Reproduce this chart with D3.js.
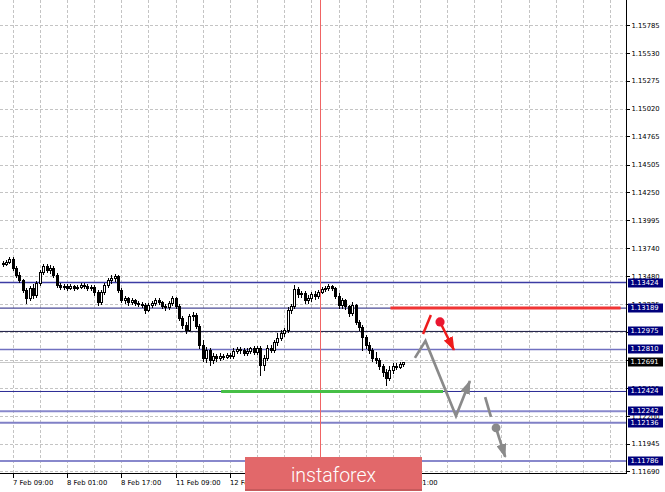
<!DOCTYPE html>
<html><head><meta charset="utf-8">
<script src="https://cdn.jsdelivr.net/npm/d3@7"></script>
<style>
body{margin:0;background:#fff;}
svg{display:block;}
.ax text{font-family:"DejaVu Sans",sans-serif;font-size:6.8px;fill:#000;}
</style>
</head><body>
<svg id="c" width="665" height="492"></svg>
<script>
// ---- data: EURUSD H1 candles (index 0 = 7 Feb 06:00) ----
const open  = [1.13603,1.13594,1.13612,1.13640,1.13557,1.13493,1.13447,1.13355,1.13282,1.13374,1.13309,1.13419,1.13520,1.13575,1.13539,1.13557,1.13493,1.13401,1.13383,1.13392,1.13374,1.13392,1.13374,1.13383,1.13401,1.13392,1.13374,1.13383,1.13337,1.13245,1.13337,1.13401,1.13447,1.13465,1.13484,1.13355,1.13264,1.13282,1.13245,1.13264,1.13236,1.13227,1.13218,1.13172,1.13218,1.13236,1.13264,1.13245,1.13209,1.13199,1.13236,1.13282,1.13209,1.13099,1.13034,1.12988,1.13117,1.13126,1.13025,1.12851,1.12732,1.12805,1.12713,1.12750,1.12732,1.12750,1.12741,1.12759,1.12750,1.12796,1.12814,1.12805,1.12777,1.12796,1.12823,1.12787,1.12823,1.12667,1.12732,1.12823,1.12805,1.12878,1.12915,1.12961,1.12988,1.13172,1.13209,1.13364,1.13319,1.13328,1.13264,1.13282,1.13319,1.13300,1.13337,1.13364,1.13374,1.13392,1.13374,1.13300,1.13218,1.13264,1.13209,1.13144,1.13218,1.13062,1.13016,1.12924,1.12851,1.12805,1.12732,1.12713,1.12658,1.12603,1.12548,1.12622,1.12658,1.12649,1.12677];
const high  = [1.13621,1.13630,1.13658,1.13658,1.13575,1.13520,1.13456,1.13374,1.13392,1.13410,1.13438,1.13539,1.13594,1.13594,1.13585,1.13575,1.13511,1.13419,1.13410,1.13410,1.13410,1.13401,1.13401,1.13419,1.13419,1.13410,1.13401,1.13401,1.13355,1.13355,1.13419,1.13465,1.13493,1.13502,1.13493,1.13374,1.13300,1.13291,1.13282,1.13273,1.13254,1.13245,1.13236,1.13236,1.13254,1.13282,1.13282,1.13254,1.13227,1.13254,1.13300,1.13291,1.13227,1.13117,1.13062,1.13135,1.13154,1.13144,1.13043,1.12897,1.12833,1.12823,1.12777,1.12768,1.12777,1.12768,1.12777,1.12777,1.12823,1.12833,1.12833,1.12823,1.12823,1.12833,1.12842,1.12842,1.12842,1.12759,1.12851,1.12851,1.12897,1.12961,1.12988,1.13007,1.13199,1.13227,1.13401,1.13383,1.13346,1.13346,1.13309,1.13337,1.13346,1.13355,1.13383,1.13392,1.13410,1.13401,1.13383,1.13328,1.13282,1.13273,1.13218,1.13245,1.13227,1.13080,1.13034,1.12943,1.12878,1.12823,1.12787,1.12732,1.12677,1.12631,1.12658,1.12686,1.12686,1.12695,1.12695];
const low   = [1.13575,1.13585,1.13603,1.13539,1.13475,1.13429,1.13337,1.13236,1.13264,1.13282,1.13291,1.13401,1.13502,1.13520,1.13511,1.13475,1.13383,1.13364,1.13364,1.13355,1.13364,1.13355,1.13364,1.13374,1.13374,1.13355,1.13355,1.13309,1.13218,1.13227,1.13319,1.13383,1.13419,1.13438,1.13337,1.13245,1.13236,1.13218,1.13227,1.13218,1.13209,1.13199,1.13144,1.13163,1.13199,1.13218,1.13227,1.13190,1.13172,1.13181,1.13218,1.13190,1.13080,1.13007,1.12961,1.12979,1.13080,1.13007,1.12823,1.12704,1.12695,1.12667,1.12686,1.12704,1.12713,1.12722,1.12732,1.12732,1.12732,1.12777,1.12777,1.12759,1.12759,1.12777,1.12768,1.12768,1.12576,1.12622,1.12713,1.12787,1.12787,1.12851,1.12897,1.12933,1.12970,1.13144,1.13190,1.13291,1.13291,1.13236,1.13236,1.13254,1.13273,1.13282,1.13328,1.13346,1.13355,1.13355,1.13282,1.13190,1.13190,1.13181,1.13117,1.13126,1.13043,1.12988,1.12805,1.12823,1.12777,1.12704,1.12686,1.12631,1.12567,1.12484,1.12530,1.12594,1.12631,1.12640,1.12658];
const close = [1.13594,1.13612,1.13640,1.13557,1.13493,1.13447,1.13355,1.13282,1.13374,1.13309,1.13419,1.13520,1.13575,1.13539,1.13557,1.13493,1.13401,1.13383,1.13392,1.13374,1.13392,1.13374,1.13383,1.13401,1.13392,1.13374,1.13383,1.13337,1.13245,1.13337,1.13401,1.13447,1.13465,1.13484,1.13355,1.13264,1.13282,1.13245,1.13264,1.13236,1.13227,1.13218,1.13172,1.13218,1.13236,1.13264,1.13245,1.13209,1.13199,1.13236,1.13282,1.13209,1.13099,1.13034,1.12988,1.13117,1.13126,1.13025,1.12851,1.12732,1.12805,1.12713,1.12750,1.12732,1.12750,1.12741,1.12759,1.12750,1.12796,1.12814,1.12805,1.12777,1.12796,1.12823,1.12787,1.12823,1.12667,1.12732,1.12823,1.12805,1.12878,1.12915,1.12961,1.12988,1.13172,1.13209,1.13364,1.13319,1.13328,1.13264,1.13282,1.13319,1.13300,1.13337,1.13364,1.13374,1.13392,1.13374,1.13300,1.13218,1.13264,1.13209,1.13144,1.13218,1.13062,1.13016,1.12924,1.12851,1.12805,1.12732,1.12713,1.12658,1.12603,1.12548,1.12622,1.12658,1.12649,1.12677,1.12691];

const timeTickIdx    = [3,19,35,51,67,83,99,115];
const timeTickLabels = ["7 Feb 09:00","8 Feb 01:00","8 Feb 17:00","11 Feb 09:00","12 Feb 01:00","12 Feb 17:00","13 Feb 09:00","14 Feb 01:00"];
const priceTicks = [1.15785,1.15530,1.15275,1.15020,1.14765,1.14505,1.14250,1.13995,1.13740,1.13480,1.13225,1.12970,1.12715,1.12455,1.12200,1.11945,1.11690];
const levels = [1.13424,1.13189,1.12975,1.12810,1.12424,1.12242,1.12136,1.11786];
const bidPrice = 1.12691;
const redZone   = {from:114.3, to:182.1, price:1.13189};
const greenZone = {from:64.4,  to:129.8, price:1.12424};
const vLineIdx = 93.5;
// forecast sketch (bar index, price)
const fcGreyPath   = [[121.5,1.12732],[124.6,1.12888],[133.6,1.12199],[137.7,1.12520]];
const fcRedStroke  = [[123.9,1.12951],[126.2,1.13126]];
const fcRedArrow   = [[128.9,1.13062],[133.0,1.12805]];
const fcGreyStroke = [[142.2,1.12373],[143.9,1.12190]];
const fcGreyArrow  = [[145.4,1.12089],[148.1,1.11823]];

// ---- styles ----
const levelStyles = [
  {c:"#3c3ca4",w:1.5},{c:"#1e1e7c",w:1},{c:"#161640",w:1},{c:"#7070c0",w:1.5},
  {c:"#2a2a94",w:1},{c:"#8888cc",w:2},{c:"#8080c6",w:2},{c:"#8888cc",w:2}];
const logoBox = {x:245, y:457, w:177, h:34};

const W=626, H=473;
const svg = d3.select("#c");
const x = d3.scaleLinear().domain([-0.743,183.69]).range([0,W]);
const y = d3.scaleLinear().domain([1.116758,1.160165]).range([H,0]);

const plot = svg.append("g");
// grid
const gridIdx = d3.range(3,184,8);
plot.selectAll("line.vg").data(gridIdx).enter().append("line")
  .attr("x1",d=>Math.round(x(d))+0.5).attr("x2",d=>Math.round(x(d))+0.5)
  .attr("y1",0).attr("y2",H)
  .attr("stroke","#c4c4c4").attr("stroke-dasharray","3,2").attr("shape-rendering","crispEdges");
plot.selectAll("line.hg").data(priceTicks).enter().append("line")
  .attr("x1",0).attr("x2",W)
  .attr("y1",d=>Math.round(y(d))+0.5).attr("y2",d=>Math.round(y(d))+0.5)
  .attr("stroke","#c4c4c4").attr("stroke-dasharray","3,2").attr("shape-rendering","crispEdges");

// bid line
plot.append("line").attr("x1",0).attr("x2",W)
  .attr("y1",Math.round(y(bidPrice))+0.5).attr("y2",Math.round(y(bidPrice))+0.5)
  .attr("stroke","#c8c8c8").attr("stroke-width",1).attr("shape-rendering","crispEdges");

// level lines
levels.forEach((p,i)=>{
  const st=levelStyles[i];
  plot.append("line").attr("x1",0).attr("x2",W)
    .attr("y1",y(p)).attr("y2",y(p))
    .attr("stroke",st.c).attr("stroke-width",st.w);
});

// vertical red line
plot.append("line").attr("x1",Math.round(x(vLineIdx))+0.5).attr("x2",Math.round(x(vLineIdx))+0.5)
  .attr("y1",0).attr("y2",H).attr("stroke","#f06464").attr("stroke-width",1)
  .attr("shape-rendering","crispEdges");

// zones
plot.append("line").attr("x1",x(redZone.from)).attr("x2",x(redZone.to))
  .attr("y1",y(redZone.price)).attr("y2",y(redZone.price))
  .attr("stroke","#f03434").attr("stroke-width",3);
plot.append("line").attr("x1",x(greenZone.from)).attr("x2",x(greenZone.to))
  .attr("y1",y(greenZone.price)).attr("y2",y(greenZone.price))
  .attr("stroke","#46bf46").attr("stroke-width",3);

// candles
const cg = plot.append("g");
open.forEach((o,i)=>{
  const cx = Math.round(x(i));
  const c = close[i], h = high[i], l = low[i];
  cg.append("line").attr("x1",cx+0.5).attr("x2",cx+0.5)
    .attr("y1",Math.round(y(h))).attr("y2",Math.round(y(l))+1)
    .attr("stroke","#000").attr("shape-rendering","crispEdges");
  const top = Math.round(y(Math.max(o,c))), bot = Math.round(y(Math.min(o,c)));
  if (c >= o) {
    cg.append("rect").attr("x",cx-0.5).attr("y",top+0.5)
      .attr("width",2).attr("height",Math.max(bot-top,1))
      .attr("fill","#fff").attr("stroke","#000").attr("stroke-width",1)
      .attr("shape-rendering","crispEdges");
  } else {
    cg.append("rect").attr("x",cx-1).attr("y",top)
      .attr("width",3).attr("height",Math.max(bot-top,1)+1)
      .attr("fill","#000").attr("shape-rendering","crispEdges");
  }
});

// forecast marks
const defs = svg.append("defs");
function marker(id,color){
  defs.append("marker").attr("id",id).attr("markerUnits","userSpaceOnUse")
    .attr("viewBox","0 0 14 10").attr("refX",13).attr("refY",5)
    .attr("markerWidth",14).attr("markerHeight",10).attr("orient","auto")
    .append("path").attr("d","M0,0 L14,5 L0,10 Z").attr("fill",color);
}
marker("ag","#8a8a8a"); marker("ar","#ee1c1c");
const ln = d3.line().x(d=>x(d[0])).y(d=>y(d[1]));
plot.append("path").attr("d",ln(fcGreyPath)).attr("fill","none")
  .attr("stroke","#8a8a8a").attr("stroke-width",2.7).attr("stroke-linejoin","miter")
  .attr("marker-end","url(#ag)");
plot.append("path").attr("d",ln(fcRedStroke)).attr("fill","none")
  .attr("stroke","#ee1c1c").attr("stroke-width",2.5);
plot.append("path").attr("d",ln(fcRedArrow)).attr("fill","none")
  .attr("stroke","#ee1c1c").attr("stroke-width",2.5).attr("marker-end","url(#ar)");
plot.append("circle").attr("cx",x(fcRedArrow[0][0])).attr("cy",y(fcRedArrow[0][1]))
  .attr("r",4.6).attr("fill","#ea1730");
plot.append("path").attr("d",ln(fcGreyStroke)).attr("fill","none")
  .attr("stroke","#8a8a8a").attr("stroke-width",2.7);
plot.append("path").attr("d",ln(fcGreyArrow)).attr("fill","none")
  .attr("stroke","#8a8a8a").attr("stroke-width",2.7).attr("marker-end","url(#ag)");
plot.append("circle").attr("cx",x(fcGreyArrow[0][0])).attr("cy",y(fcGreyArrow[0][1]))
  .attr("r",4.4).attr("fill","#8a8a8a");

// axes
const boxed = levels.concat([bidPrice]);
const ra = svg.append("g").attr("class","ax").attr("transform",`translate(${W+0.5},0)`)
  .call(d3.axisRight(y).tickValues(priceTicks).tickFormat(d3.format(".5f")).tickSize(3).tickPadding(2));
ra.select(".domain").remove();
ra.selectAll(".tick line").attr("shape-rendering","crispEdges");
// labels completely covered by a level box are not visible in the original
ra.selectAll(".tick text").filter(d=>boxed.some(p=>Math.abs(y(p)-y(d))<3)).remove();

const ba = svg.append("g").attr("class","ax").attr("transform",`translate(0,${H+0.5})`)
  .call(d3.axisBottom(x).tickValues(timeTickIdx).tickFormat((d,i)=>timeTickLabels[i]).tickSize(4));
ba.select(".domain").remove();
ba.selectAll(".tick").attr("transform",d=>`translate(${Math.round(x(d))+0.5},0)`);
ba.selectAll(".tick line").attr("shape-rendering","crispEdges");
ba.selectAll(".tick text").attr("text-anchor","start").attr("x",-0.5).attr("y",6.5);
// labels completely hidden under the logo
ba.selectAll(".tick").filter(d=>x(d)>logoBox.x && x(d)+42<logoBox.x+logoBox.w).remove();

svg.append("line").attr("x1",W+0.5).attr("x2",W+0.5).attr("y1",0).attr("y2",H+1)
  .attr("stroke","#000").attr("shape-rendering","crispEdges");
svg.append("line").attr("x1",0).attr("x2",W+1).attr("y1",H+0.5).attr("y2",H+0.5)
  .attr("stroke","#000").attr("shape-rendering","crispEdges");

// level labels
const lab = svg.append("g").attr("class","ax");
boxed.forEach((p,i)=>{
  const isBid = i===levels.length;
  const cy = Math.round(y(p));
  lab.append("rect").attr("x",628).attr("y",cy-4.5).attr("width",35).attr("height",9)
    .attr("fill",isBid?"#000":"#00007c");
  lab.append("text").attr("x",630.5).attr("y",cy).attr("dy","0.34em")
    .style("fill","#fff").text(d3.format(".5f")(p));
});

// logo
const logo = svg.append("g");
logo.append("rect").attr("x",logoBox.x).attr("y",logoBox.y).attr("width",logoBox.w).attr("height",logoBox.h)
  .attr("fill","#e2686a");
logo.append("rect").attr("x",logoBox.x).attr("y",logoBox.y+logoBox.h-2).attr("width",logoBox.w).attr("height",2)
  .attr("fill","#c65a5c");
logo.append("text").attr("x",logoBox.x+logoBox.w/2).attr("y",482).attr("text-anchor","middle")
  .style("font-family","Roboto, sans-serif").style("font-weight",300).style("font-size","19.5px")
  .style("fill","#fff").text("instaforex");
</script>
</body></html>
